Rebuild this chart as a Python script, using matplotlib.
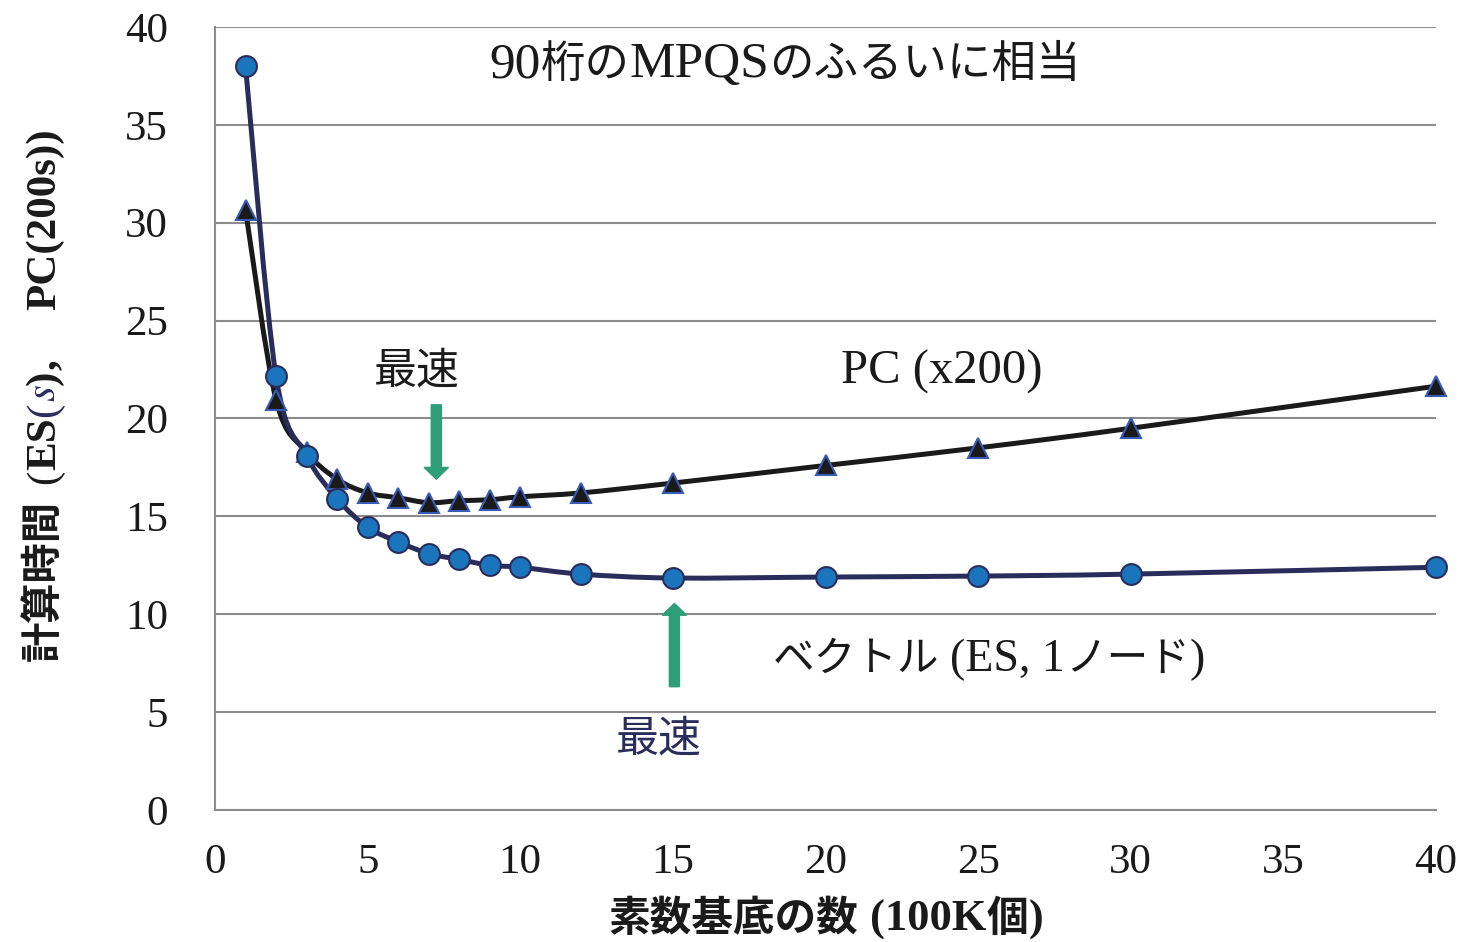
import matplotlib
matplotlib.use('Agg')
from matplotlib import pyplot as plt
from matplotlib.path import Path
from matplotlib.patches import PathPatch, FancyArrow
import numpy as np

# Fonts: Latin in Times-like serif, Japanese falls back to Noto Sans CJK JP
plt.rcParams['font.family'] = ['Liberation Serif', 'Noto Sans CJK JP']
plt.rcParams['mathtext.fontset'] = 'stix'

# Data
base_size = [1, 2, 3, 4, 5, 6, 7, 8, 9, 10, 12, 15, 20, 25, 30, 40]
es_time = [38.0, 22.15, 18.1, 15.9, 14.45, 13.7, 13.1, 12.8, 12.5, 12.4, 12.05, 11.85, 11.9, 11.95, 12.05, 12.4]
pc_time = [30.65, 20.95, 18.3, 16.9, 16.2, 15.95, 15.7, 15.8, 15.85, 16.0, 16.2, 16.7, 17.6, 18.5, 19.5, 21.65]
x_ticks = [0, 5, 10, 15, 20, 25, 30, 35, 40]
y_ticks = [0, 5, 10, 15, 20, 25, 30, 35, 40]

navy = '#2a2d5c'
blue = '#1b75bc'
green = '#2e9e78'
gray = '#8c8c8c'
black = '#1a1a1a'
JP = 'Noto Sans CJK JP'
SERIF = 'Liberation Serif'

W, H = 1458, 942


def smooth_path(xs, ys):
    # Excel-like smoothed line: cubic Bezier through the points
    pts = np.column_stack([xs, ys]).astype(float)
    n = len(pts)
    verts = [pts[0]]
    codes = [Path.MOVETO]
    for i in range(n - 1):
        p0 = pts[i - 1] if i > 0 else pts[i]
        p1 = pts[i]
        p2 = pts[i + 1]
        p3 = pts[i + 2] if i + 2 < n else pts[i + 1]
        c1 = p1 + (p2 - p0) / 6.0
        c2 = p2 - (p3 - p1) / 6.0
        verts += [c1, c2, p2]
        codes += [Path.CURVE4] * 3
    return Path(verts, codes)


def rich_text(fig, x, y, pieces, vertical=False, center=True):
    # pieces: (text, kwargs) or a number = gap in px; x, y in px from top-left (baseline)
    renderer = fig.canvas.get_renderer()
    made = []
    pos = 0.0
    for p in pieces:
        if isinstance(p, (int, float)):
            pos += p
            continue
        txt, kw = p
        t = fig.text(0, 0, txt, rotation=90 if vertical else 0, rotation_mode='anchor',
                     ha='left', va='baseline', **kw)
        bb = t.get_window_extent(renderer)
        made.append((t, pos))
        pos += bb.height if vertical else bb.width
    off = pos / 2 if center else 0
    for t, p in made:
        if vertical:
            t.set_position((x / W, (H - y + p - off) / H))
        else:
            t.set_position(((x + p - off) / W, (H - y) / H))


fig = plt.figure(figsize=(W / 100, H / 100), dpi=100)
ax = fig.add_axes([215 / W, 1 - 810 / H, (1436 - 215) / W, (810 - 27) / H])

ax.add_patch(PathPatch(smooth_path(base_size, pc_time), facecolor='none', edgecolor=black, lw=3.6, zorder=3))
ax.add_patch(PathPatch(smooth_path(base_size, es_time), facecolor='none', edgecolor=navy, lw=3.6, zorder=3))
ax.plot(base_size, pc_time, linestyle='none', marker='^', ms=15, mfc=black, mec='#3a5bb5', mew=1.5, zorder=4, clip_on=False)
ax.plot(base_size, es_time, linestyle='none', marker='o', ms=15, mfc=blue, mec=navy, mew=1.5, zorder=5, clip_on=False)

ax.set_xlim(0, 40)
ax.set_ylim(0, 40)
ax.set_xticks(x_ticks)
ax.set_yticks(y_ticks)
ax.tick_params(axis='both', length=0, labelsize=31, labelcolor=black)
ax.tick_params(axis='y', pad=34)
ax.tick_params(axis='x', pad=24)
ax.yaxis.grid(True, color=gray, lw=1.5)
ax.set_axisbelow(True)
for s in ['top', 'right']:
    ax.spines[s].set_visible(False)
for s in ['left', 'bottom']:
    ax.spines[s].set_color(gray)
    ax.spines[s].set_linewidth(1.5)

# Annotations (mixed Latin serif / Japanese gothic)
jp = dict(family=JP, fontsize=30, color=black)
lat = dict(family=SERIF, fontsize=35, color=black)
rich_text(fig, 785, 77, [('90', dict(lat, fontsize=37)), ('桁の', dict(jp, fontsize=32)),
                         ('MPQS', dict(lat, fontsize=37)), ('のふるいに相当', dict(jp, fontsize=32))])
rich_text(fig, 942, 384, [('PC (x200)', lat)])
rich_text(fig, 989, 671, [('ベクトル', jp), 11, ('(ES, 1', dict(lat, fontsize=33)), ('ノード', jp),
                          (')', dict(lat, fontsize=33))])
ax.text(6.6, 22.4, '最速', fontsize=31, ha='center', va='center', color=black, family=JP)
ax.text(14.55, 3.6, '最速', fontsize=31, ha='center', va='center', color=navy, family=JP)

ax.add_patch(FancyArrow(7.25, 20.7, 0, -3.8, width=0.33, head_width=0.8, head_length=0.6,
                        length_includes_head=True, color=green, zorder=6))
ax.add_patch(FancyArrow(15.05, 6.3, 0, 4.25, width=0.33, head_width=0.8, head_length=0.6,
                        length_includes_head=True, color=green, zorder=6))

# X label
jpb = dict(family=JP, fontsize=30, fontweight='bold', color=black)
latb = dict(family=SERIF, fontsize=32, fontweight='bold', color=black)
rich_text(fig, 826, 931, [('素数基底の数', jpb), 12, ('(100K', latb), ('個', jpb), (')', latb)])

# Y label (rotated), italic navy s
ylat = dict(family=SERIF, fontsize=31, fontweight='bold', color=black)
rich_text(fig, 55, 661, [('計算時間', dict(jpb, fontsize=29)), 16,
                         ('(', dict(ylat, fontweight='normal')), ('ES', ylat),
                         ('(', dict(ylat, fontweight='normal', color=navy)),
                         ('$s$', dict(ylat, fontweight='normal', color=navy)),
                         (')', ylat), (',', ylat), 50,
                         ('PC(200s))', ylat)],
          vertical=True, center=False)

fig.savefig('out.png', dpi=100)
